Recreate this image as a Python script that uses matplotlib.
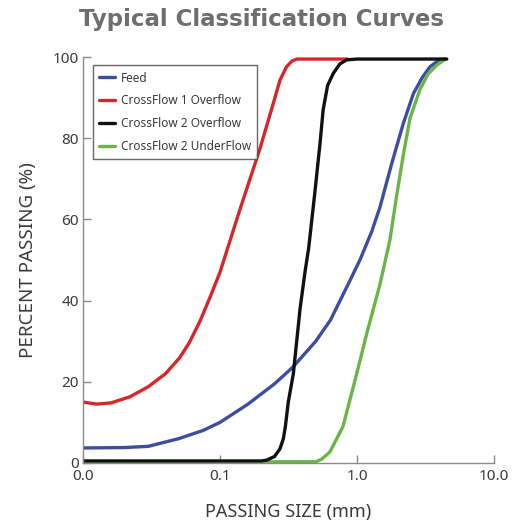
import matplotlib.pyplot as plt

# Particle size (mm) and cumulative percent passing for each stream
feed_size = [0.01, 0.02, 0.03, 0.05, 0.075, 0.1, 0.16, 0.25, 0.34, 0.5, 0.64, 0.89, 1.05, 1.28, 1.47, 1.8, 2.18, 2.58, 3.0, 3.41, 4.03, 4.4]
feed_pass = [3.7, 3.8, 4.1, 6.0, 8.0, 10.0, 14.5, 19.5, 23.6, 30.0, 35.2, 45.0, 50.0, 57.0, 63.0, 74.0, 83.7, 91.0, 95.0, 97.6, 99.4, 99.5]

cf1_over_size = [0.01, 0.0126, 0.016, 0.022, 0.03, 0.04, 0.051, 0.06, 0.0716, 0.085, 0.1, 0.14, 0.196, 0.245, 0.274, 0.306, 0.335, 0.363, 0.45, 0.6, 0.85]
cf1_over_pass = [15.0, 14.5, 14.8, 16.3, 18.8, 22.0, 26.0, 29.8, 35.0, 41.0, 47.0, 62.5, 77.5, 88.6, 94.3, 97.6, 99.0, 99.5, 99.5, 99.5, 99.5]

cf2_over_size = [0.01, 0.1, 0.2, 0.219, 0.25, 0.274, 0.29, 0.3, 0.315, 0.343, 0.384, 0.417, 0.444, 0.49, 0.537, 0.566, 0.61, 0.672, 0.75, 0.84, 1.0, 2.0, 4.52]
cf2_over_pass = [0.5, 0.5, 0.5, 0.7, 1.6, 3.5, 6.0, 9.0, 15.0, 22.0, 38.0, 47.0, 53.0, 66.0, 78.7, 87.0, 93.0, 96.0, 98.3, 99.3, 99.5, 99.5, 99.5]

cf2_under_size = [0.01, 0.1, 0.5, 0.55, 0.6, 0.636, 0.79, 0.995, 1.18, 1.47, 1.74, 1.95, 2.18, 2.44, 2.88, 3.3, 3.82, 4.38]
cf2_under_pass = [0.3, 0.3, 0.3, 0.9, 2.0, 2.8, 9.0, 22.0, 32.0, 44.0, 55.0, 66.0, 76.0, 85.0, 92.0, 95.8, 98.0, 99.4]

x_ticks = [0.01, 0.1, 1.0, 10.0]
x_tick_labels = ['0.0', '0.1', '1.0', '10.0']
y_ticks = [0, 20, 40, 60, 80, 100]

plt.rcParams['font.family'] = ['Noto Sans', 'DejaVu Sans']

fig = plt.figure(figsize=(5.13, 5.26), dpi=100)
ax = fig.add_axes([0.1618, 0.1198, 0.8012, 0.7718])

lw = 2.4
ax.plot(feed_size, feed_pass, color='#3b4ea2', lw=lw, label='Feed', solid_capstyle='round')
ax.plot(cf1_over_size, cf1_over_pass, color='#d9252a', lw=lw, label='CrossFlow 1 Overflow', solid_capstyle='round')
ax.plot(cf2_under_size, cf2_under_pass, color='#6ab547', lw=lw, label='CrossFlow 2 UnderFlow', solid_capstyle='round')
ax.plot(cf2_over_size, cf2_over_pass, color='#111111', lw=lw, label='CrossFlow 2 Overflow', solid_capstyle='round')

ax.set_xscale('log')
ax.set_xlim(0.01, 10)
ax.set_ylim(0, 100)
ax.set_xticks(x_ticks)
ax.set_xticklabels(x_tick_labels)
ax.minorticks_off()
ax.set_yticks(y_ticks)

for side in ['top', 'right']:
    ax.spines[side].set_visible(False)
for side in ['left', 'bottom']:
    ax.spines[side].set_color('#8a8a8a')
    ax.spines[side].set_linewidth(1.0)
ax.tick_params(direction='in', length=6, width=1.0, color='#8a8a8a',
               labelsize=11, labelcolor='#3a3a3a')
ax.tick_params(axis='x', pad=4)
ax.tick_params(axis='y', pad=3)

ax.set_xlabel('PASSING SIZE (mm)', fontsize=13, color='#3a3a3a', labelpad=14)
ax.set_ylabel('PERCENT PASSING (%)', fontsize=13.5, color='#3a3a3a', labelpad=11)
fig.suptitle('Typical Classification Curves', x=0.51, y=0.985, fontsize=16.5,
             fontweight='bold', family=['DejaVu Sans'], color='#6d6e70')

# legend order: Feed, CF1 over, CF2 over, CF2 under
h, l = ax.get_legend_handles_labels()
order = [0, 1, 3, 2]
leg = ax.legend([h[i] for i in order], [l[i] for i in order], loc='upper left',
                bbox_to_anchor=(0.024, 0.98), borderaxespad=0, fontsize=8.5,
                frameon=True, fancybox=False, handlelength=1.3, handletextpad=0.5,
                borderpad=0.55, labelspacing=0.82, labelcolor='#3a3a3a')
leg.get_frame().set_edgecolor('#444444')
leg.get_frame().set_linewidth(1.0)

plt.savefig('out.png', dpi=100)
